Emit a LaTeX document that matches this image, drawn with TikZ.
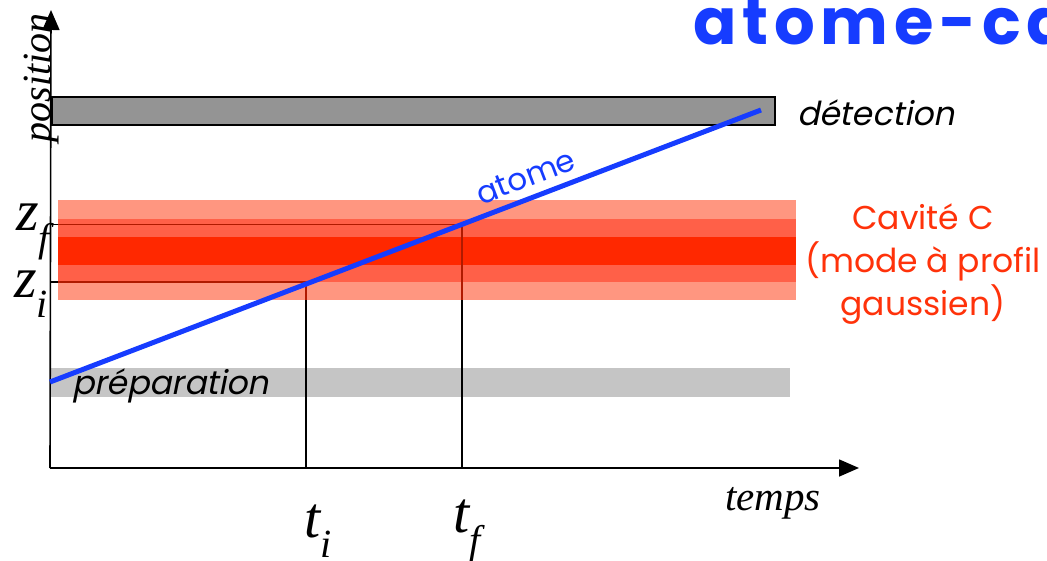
\documentclass[tikz,border=0pt]{standalone}
\usepackage{fontspec}
\setmainfont{Liberation Serif}
\newfontfamily\comic{Poppins}
\newfontfamily\comicit[FakeSlant=0.2]{Poppins}
\newfontfamily\comictitle[LetterSpace=9]{Poppins}
\usetikzlibrary{arrows.meta, positioning}
\definecolor{bargray}{RGB}{148,148,148}
\definecolor{prepgray}{RGB}{197,197,197}
\definecolor{cavout}{RGB}{255,150,128}
\definecolor{cavmid}{RGB}{255,96,72}
\definecolor{cavin}{RGB}{255,40,0}
\definecolor{cavline}{RGB}{176,26,0}
\definecolor{atomblue}{RGB}{22,60,255}
\definecolor{cavtext}{RGB}{255,50,10}
\tikzset{
    axis/.style={
        line width=1.6pt,
        -{Triangle[length=20pt,width=17pt]}
    },
    guide/.style={
        line width=1.2pt,
        draw=black
    },
    guide in/.style={
        line width=1.2pt,
        draw=cavline
    },
    big label/.style={
        inner sep=0pt,
        font=\fontsize{58}{60}\selectfont\itshape
    },
    comic label/.style={
        inner sep=0pt,
        font=\fontsize{33}{43}\selectfont\comicit
    }
}

\begin{document}
\begin{tikzpicture}[x=1pt, y=-1pt]
            \useasboundingbox (0,0) rectangle (1047,561);
            \clip (0,0) rectangle (1047,561);

            % Coordinates
            \coordinate (origin) at (50,468);
            \coordinate (ytip) at (51,10);
            \coordinate (xtip) at (859,468);
            \coordinate (zf) at (50,224.5);
            \coordinate (zi) at (50,282);
            \coordinate (ti) at (306,468);
            \coordinate (tf) at (462,468);
            \coordinate (start) at (50,382);
            \coordinate (stop) at (761,110);

            % Bars
            \filldraw [fill=bargray, draw=black, line width=1.2pt] (52,97) rectangle (775,125);
            \fill [prepgray] (50,368) rectangle (790,397);

            % Guide lines
            \draw [guide] (zf) -| (tf);
            \draw [guide] (zi) -| (ti);

            % Cavity
            \fill [cavout] (58,200) rectangle (796,300);
            \fill [cavmid] (58,219) rectangle (796,282);
            \fill [cavin] (58,237) rectangle (796,265);
            \begin{scope}
                \clip (58,200) rectangle (796,300);
                \draw [guide in] (zf) -| (tf);
                \draw [guide in] (zi) -| (ti);
            \end{scope}

            % Axes
            \draw [axis] (origin) -- (ytip);
            \draw [axis] (origin) -- (xtip);

            % Atom path
            \draw [atomblue, line width=5pt] (start) -- (stop)
                node [pos=0.68, above=8pt, sloped, inner sep=0pt,
                      font=\fontsize{31}{33}\selectfont\comic, text=atomblue] (atome) {atome};

            % Labels
            \node (title) [anchor=base west, inner sep=0pt, text=atomblue,
                font=\fontsize{64}{66}\selectfont\comictitle\bfseries] at (693,45) {atome-cavité};
            \node (position) [rotate=90, inner sep=0pt,
                font=\fontsize{40}{42}\selectfont\itshape] at (42,78) {position};
            \node (detection) [comic label, anchor=west] at (797,113) {détection};
            \node (preparation) [comic label, anchor=west] at (72,386) {préparation};
            \node (cavite) [comic label, align=center, text=cavtext,
                font=\fontsize{33}{43}\selectfont\comic] at (923,264)
                {Cavité C\\(mode à profil\\gaussien)};
            \node (zflabel) [big label] at (33,232) {z\raisebox{-0.35em}{\fontsize{40}{40}\selectfont f}};
            \node (zilabel) [big label] at (31,294) {z\raisebox{-0.35em}{\fontsize{40}{40}\selectfont i}};
            \node (tilabel) [big label] at (318,531) {t\raisebox{-0.35em}{\fontsize{40}{40}\selectfont i}};
            \node (tflabel) [big label] at (467,531) {t\raisebox{-0.35em}{\fontsize{40}{40}\selectfont f}};
            \node (temps) [inner sep=0pt, font=\fontsize{41}{43}\selectfont\itshape] at (773,503) {temps};
\end{tikzpicture}
\end{document}
